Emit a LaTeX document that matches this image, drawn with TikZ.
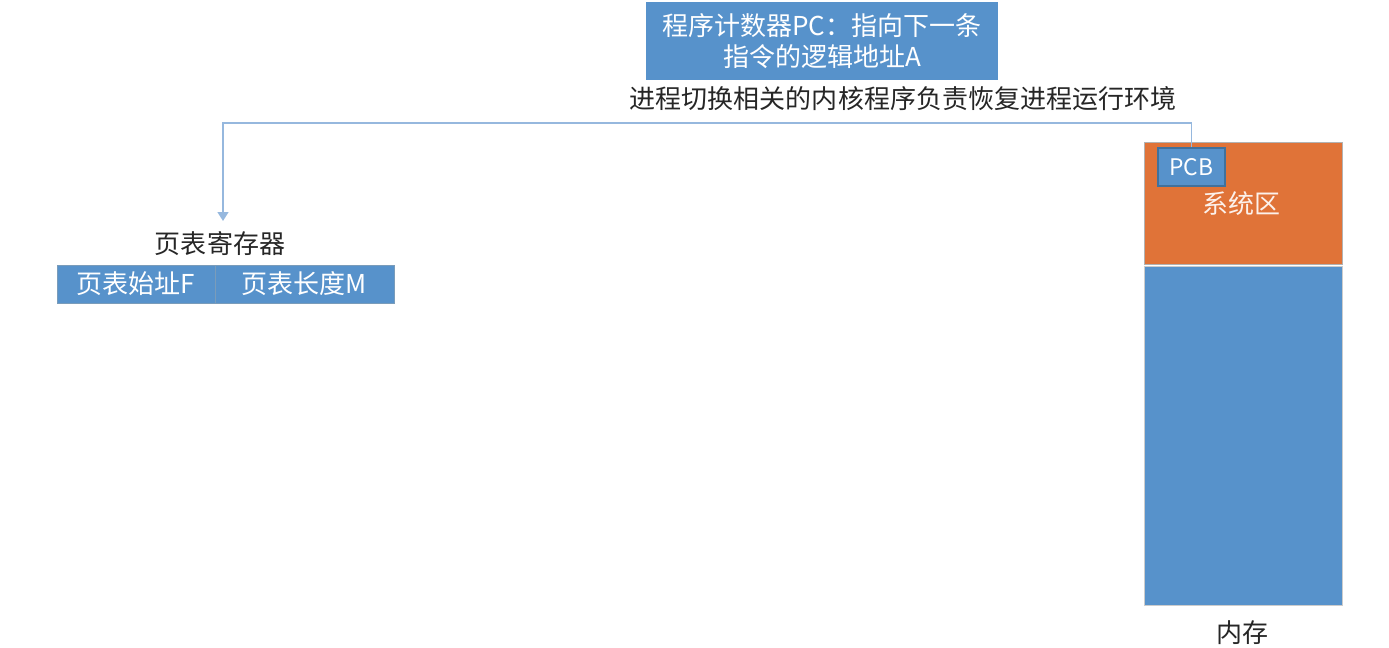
\documentclass[tikz,border=0pt]{standalone}
\usepackage{fontspec}
\setmainfont{Noto Sans CJK SC}
\usetikzlibrary{arrows.meta}
\definecolor{boxblue}{RGB}{87,146,203}
\definecolor{edgeblue}{RGB}{65,113,156}
\definecolor{sysorange}{RGB}{224,115,56}
\definecolor{linkblue}{RGB}{150,184,222}
\tikzset{
  bluebox/.style={rectangle,fill=boxblue,text=white,inner sep=0pt,align=center},
  plain/.style={text=black!85,inner sep=0pt},
  link/.style={draw=linkblue,line width=1.1pt,-{Triangle[length=5pt,width=6pt]}}
}
\begin{document}
\fontsize{14.8}{18}\selectfont
\begin{tikzpicture}[x=0.02cm,y=-0.02cm]
\useasboundingbox (0,0) rectangle (1389,647);
% program counter
\node[bluebox,minimum width=7.04cm,minimum height=1.56cm] (pc) at (822,41)
  {程序计数器PC：指向下一条\\指令的逻辑地址A};
\node[plain] (note) at (903,99) {进程切换相关的内核程序负责恢复进程运行环境};

% memory
\node[bluebox,fill=sysorange,draw=gray!60,minimum width=3.96cm,minimum height=2.44cm] (sys) at (1243,203) {};
\node[text=white!90!sysorange,inner sep=0pt] (syslabel) at (1241,204) {系统区};
\node[bluebox,draw=gray!40,minimum width=3.96cm,minimum height=6.78cm] (mem) at (1243,435.5) {};
\node[plain] (memlabel) at (1242,633) {内存};
\node[bluebox,draw=edgeblue,thick,minimum width=1.34cm,minimum height=0.76cm,
  font=\fontsize{13}{15}\selectfont] (pcb) at (1191.5,167) {PCB};

% page table register
\node[plain] (reglabel) at (220,244) {页表寄存器};
\node[bluebox,draw=edgeblue!70,minimum width=3.16cm,minimum height=0.76cm] (base) at (136,284) {页表始址F};
\node[bluebox,draw=edgeblue!70,minimum width=3.58cm,minimum height=0.76cm] (len) at (304.5,284) {页表长度M};

\coordinate (bend) at (223,123);
\coordinate (regtop) at (223,221);
\draw[link] (pcb.north) |- (bend) -- (regtop);
\end{tikzpicture}
\end{document}
